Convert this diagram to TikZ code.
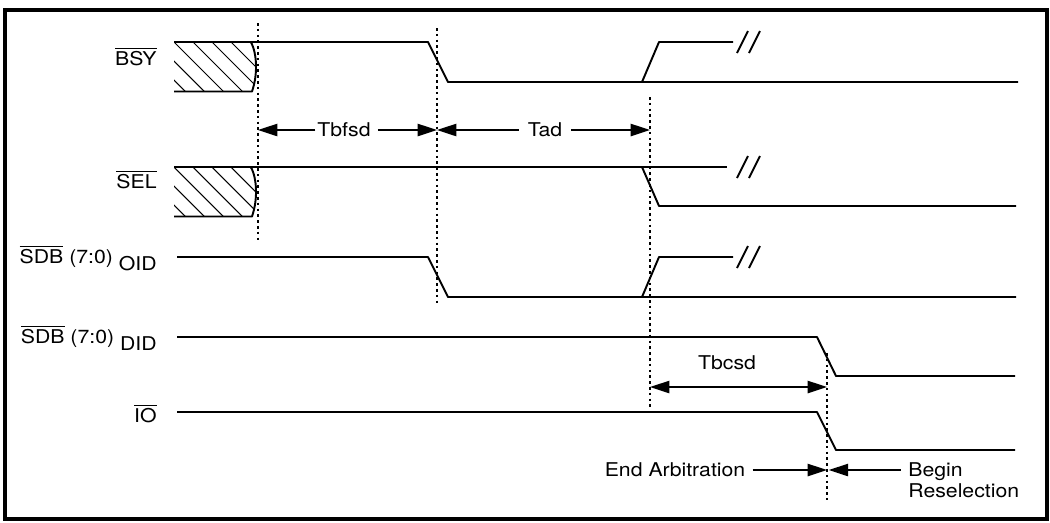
\documentclass[tikz,border=0pt]{standalone}
\usepackage{fontspec}
\setmainfont{TeX Gyre Heros}[FakeStretch=1.12]
\usetikzlibrary{positioning}
\usetikzlibrary{arrows.meta}

\begin{document}
\begin{tikzpicture}
[x=0.02cm,y=-0.02cm,
  every node/.style={font=\fontsize{10.8pt}{13pt}\selectfont},
  signal/.style={line width=1.1pt,line join=round},
  guide/.style={line width=0.8pt,dash pattern=on 1.5pt off 1.8pt},
  tip/.style={Triangle[length=11pt,width=7pt]},
  dim/.style={line width=0.8pt,-{Triangle[length=11pt,width=7pt]}},
  hatch/.style={line width=0.6pt},
  sig/.style={anchor=base east,inner sep=0pt},
  txt/.style={inner sep=0pt,text depth=0pt}]

\useasboundingbox (0,0) rectangle (1050,522);
\draw[line width=2.2pt] (5,10) rectangle (1047,519);

% hatched boxes before the first guide
\foreach \t in {42,167} {
  \begin{scope}
    \clip (174,\t) -- (251,\t) .. controls (257,\t+12) and (258,\t+32) .. (252,\t+49.5) -- (174,\t+49.5) -- cycle;
    \foreach \s in {117,136,...,260}
      \draw[hatch] (\s,\t) -- ++(60,60);
  \end{scope}
  \draw[signal] (251,\t) .. controls (257,\t+12) and (258,\t+32) .. (252,\t+49.5) -- (174,\t+49.5);
}

% signal labels
\node[sig] (bsy) at (157,65) {$\overline{\mbox{BSY}}$};
\node[sig] (sel) at (157,188) {$\overline{\mbox{SEL}}$};
\node[sig] (oid) at (157,263) {$\overline{\mbox{SDB}}$ (7:0) \raisebox{-4pt}{OID}};
\node[sig] (did) at (157,343) {$\overline{\mbox{SDB}}$ (7:0) \raisebox{-4pt}{DID}};
\node[sig] (io) at (157,422) {$\overline{\mbox{IO}}$};

% signals
\draw[signal] (174,42) -- (428,42) -- (448,82) -- (1018,82);
\draw[signal] (642,82) -- (659,42) -- (733,42);
\draw[signal] (174,167) -- (727,167);
\draw[signal] (642,167) -- (659,206) -- (1016,206);
\draw[signal] (177,257) -- (428,257) -- (448,297) -- (1016,297);
\draw[signal] (642,297) -- (659,257) -- (733,257);
\draw[signal] (177,337) -- (817,337) -- (836,376) -- (1015,376);
\draw[signal] (177,412) -- (817,412) -- (836,450) -- (1015,450);

% break marks
\foreach \y in {42,167,257}
  \draw[signal] (737,\y+11) -- (748,\y-11) (749,\y+11) -- (760,\y-11);

% timing guides
\coordinate (g1) at (258,23);
\coordinate (g2) at (437,28);
\coordinate (g3) at (650,97);
\coordinate (g4) at (827,353);
\draw[guide] (g1) -- (258,242);
\draw[guide] (g2) -- (437,303);
\draw[guide] (g3) -- (650,407);
\draw[guide] (g4) -- (827,500);

% intervals
\node[txt] (tbfsd) at (344,130) {Tbfsd};
\node[txt] (tad) at (545,130) {Tad};
\node[txt] (tbcsd) at (727,363) {Tbcsd};
\draw[dim,shorten <=1pt] (tbfsd.west) -- (g1 |- tbfsd);
\draw[dim,shorten <=4pt] (tbfsd.east) -- (g2 |- tbfsd);
\draw[dim,shorten <=5pt] (tad.west) -- (g2 |- tad);
\draw[dim,shorten <=5pt] (tad.east) -- (g3 |- tad);
\coordinate (c1) at (650,387);
\draw[line width=0.8pt,{Triangle[length=11pt,width=7pt]}-{Triangle[length=11pt,width=7pt]}] (c1) -- (g4 |- c1);

\node[txt] (endarb) at (675,470) {End Arbitration};
\node[txt,anchor=west] (begin) at (908,470) {Begin};
\node[anchor=base west,inner sep=0pt] (resel) at (908,497) {Reselection};
\draw[dim,shorten <=4pt] (endarb.east) -- (g4 |- endarb);
\draw[dim,shorten <=4pt] (begin.west) -- ([xshift=1pt]g4 |- begin);
\end{tikzpicture}
\end{document}
